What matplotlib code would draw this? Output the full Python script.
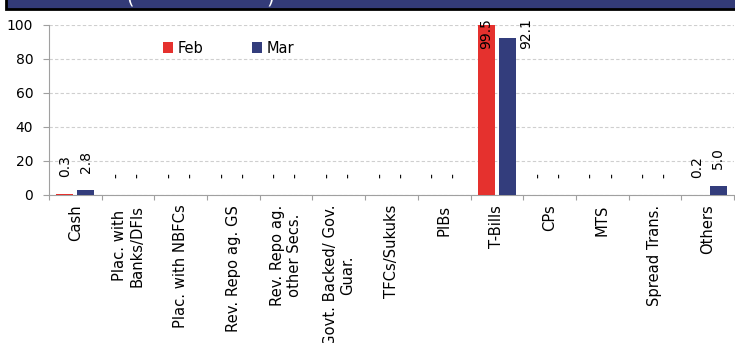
import numpy as np
import matplotlib.pyplot as plt
from matplotlib.patches import Rectangle

# data
categories = ["Cash", "Plac. with\nBanks/DFIs", "Plac. with NBFCs", "Rev. Repo ag. GS",
              "Rev. Repo ag.\nother Secs.", "Govt. Backed/ Gov.\nGuar.", "TFCs/Sukuks",
              "PIBs", "T-Bills", "CPs", "MTS", "Spread Trans.", "Others"]
feb = [0.3, 0, 0, 0, 0, 0, 0, 0, 99.5, 0, 0, 0, 0.2]
mar = [2.8, 0, 0, 0, 0, 0, 0, 0, 92.1, 0, 0, 0, 5.0]
series_names = ["Feb", "Mar"]
colors = ["#e5312e", "#333d7c"]

W, H = 735, 343
fig = plt.figure(figsize=(W / 100, H / 100), dpi=100)
plt.rcParams['font.family'] = ['DejaVu Sans']

# header band (cut off at the top)
fig.patches.append(Rectangle((6 / W, 1 - 9 / H), 1.0, 20 / H, transform=fig.transFigure,
                             facecolor="#333b78", edgecolor="black", linewidth=2, zorder=0))
fig.text(130 / W, 1 - 7 / H, "(", color="white", fontsize=14, va="bottom", ha="center")
fig.text(270 / W, 1 - 7 / H, ")", color="white", fontsize=14, va="bottom", ha="center")

ax = fig.add_axes([49 / W, 1 - 195 / H, 685 / W, 170.5 / H])
x = np.arange(len(categories))
width = 0.32
offset = 0.2

for i, (vals, name, col, off) in enumerate(zip([feb, mar], series_names, colors, [-offset, offset])):
    ax.bar(x + off, vals, width=width, color=col, label=name, zorder=3)
    for xi, v in zip(x + off, vals):
        lab = "-" if v == 0 else f"{v:.1f}"
        if v + 10 > 100:
            # label pushed down to the top of the chart; second series nudged aside
            ax.text(xi + 0.36 * i, 104, lab, rotation=90, ha="center", va="top", fontsize=10,
                    clip_on=False, zorder=4)
        else:
            ax.text(xi, v + 10, lab, rotation=90, ha="center", va="bottom", fontsize=10,
                    clip_on=False, zorder=4)

ax.set_xlim(-0.5, len(categories) - 0.5)
ax.set_ylim(0, 100)
ax.set_yticks(range(0, 101, 20))
ax.tick_params(axis="y", labelsize=10, length=4.3, pad=7, color="#a0a0a0")

ax.set_xticks(np.arange(len(categories) + 1) - 0.5)
ax.set_xticklabels([])
ax.set_xticks(x, minor=True)
ax.set_xticklabels(categories, minor=True, rotation=90, fontsize=10.6, va="top", ha="center",
                   multialignment="center")
ax.tick_params(axis="x", which="major", length=3.6, color="#a0a0a0")
ax.tick_params(axis="x", which="minor", length=0, pad=7)

ax.grid(axis="y", linestyle=(0, (3, 2)), color="#cfcfcf", linewidth=0.8, zorder=0)
for s in ["top", "right"]:
    ax.spines[s].set_visible(False)
for s in ["left", "bottom"]:
    ax.spines[s].set_color("#a0a0a0")

ax.legend(loc="upper left", bbox_to_anchor=(108 / 685, 0.94), ncol=2, frameon=False,
          fontsize=10.5, handlelength=0.7, handleheight=0.7, handletextpad=0.3,
          columnspacing=3.35, borderaxespad=0)

fig.savefig("out.png", dpi=100)
